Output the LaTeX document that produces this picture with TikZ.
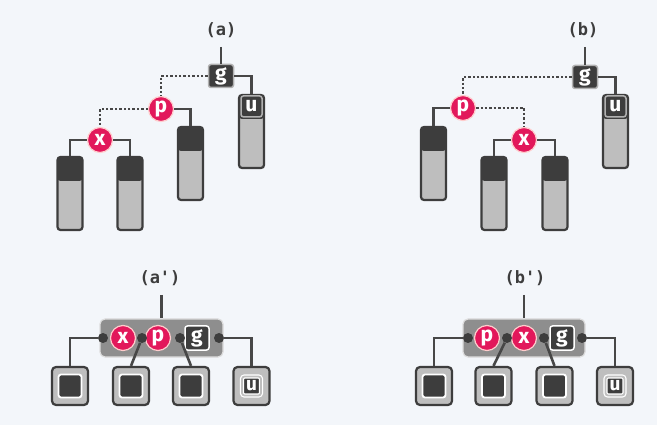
\documentclass[tikz,border=0pt]{standalone}
\usepackage{fontspec}
\newfontfamily\tagfont{DejaVu Sans Mono}
\newfontfamily\keyfont{Fira Sans}
\usepackage{tikz}
\definecolor{bg}{HTML}{F3F6FA}
\definecolor{ink}{HTML}{3D3D3D}
\definecolor{rim}{HTML}{474747}
\definecolor{redk}{HTML}{E2185B}
\definecolor{pale}{HTML}{BEBEBE}
\definecolor{mid}{HTML}{8E8E8E}

\begin{document}
\begin{tikzpicture}[x=1pt,y=-1pt,
	every node/.style={inner sep=0pt},
	edge/.style={draw=rim, line width=2.6pt},
	link/.style={draw=rim, line width=2.4pt, dotted},
	rk/.style={circle, fill=redk, draw=red!20, line width=1.2pt, minimum size=25pt,
		text=white, font=\keyfont\bfseries\fontsize{21}{21}\selectfont},
	bk/.style={rectangle, rounded corners=2.5pt, fill=ink, draw=white!60!ink, line width=1.5pt,
		minimum width=25pt, minimum height=23pt,
		text=white, font=\keyfont\bfseries\fontsize{21}{21}\selectfont},
	leaf/.style={rectangle, rounded corners=3pt, draw=ink, line width=2.2pt, fill=pale,
		minimum width=25pt, minimum height=73pt,
		path picture={\fill[ink] (path picture bounding box.north west) rectangle ([yshift=-24pt]path picture bounding box.north east);}},
	tag/.style={font=\tagfont\bfseries\fontsize{17}{17}\selectfont, text=ink},
	grp/.style={rectangle, rounded corners=5pt, fill=mid, draw=white!70!mid, line width=1.2pt,
		minimum width=123pt, minimum height=38pt},
	dot/.style={circle, fill=ink, minimum size=10pt},
	sq/.style={rectangle, rounded corners=4pt, fill=pale, draw=ink, line width=2.2pt,
		minimum width=36pt, minimum height=38pt},
	core/.style={rectangle, rounded corners=2.5pt, fill=ink, draw=white, line width=1.8pt,
		minimum size=23pt},
	ucore/.style={rectangle, rounded corners=2.5pt, fill=ink, draw=white, double=pale,
		double distance=1.8pt, line width=1.2pt, minimum size=19pt,
		text=white, font=\keyfont\bfseries\fontsize{19}{19}\selectfont}]
\fill[bg] (0,0) rectangle (657,425);
\useasboundingbox (0,0) rectangle (657,425);

% (a)
\node [tag] (na) at (221,30) {(a)};
\coordinate (ta) at (221,47);
\node [bk] (ga) at (221,76) {g};
\node [leaf] (ua) at (251.5,131.5) {};
\node [bk, minimum width=21pt, minimum height=21pt] at ([yshift=-12.5pt]ua.north) {u};
\node [rk] (pa) at (161,109) {p};
\node [leaf] (qa) at (190.5,163.5) {};
\node [rk] (xa) at (100,140) {x};
\node [leaf] (la1) at (70,193.5) {};
\node [leaf] (la2) at (130,193.5) {};
\draw [edge] (ta) -- (ga);
\draw [edge] (ga) -| (ua);
\draw [edge] (pa) -| (qa);
\draw [edge] (xa) -| (la1);
\draw [edge] (xa) -| (la2);
\draw [link] (ga) -| (pa);
\draw [link] (pa) -| (xa);

% (b)
\node [tag] (nb) at (583,30) {(b)};
\coordinate (tb) at (585,47);
\node [bk] (gb) at (585,77) {g};
\node [leaf] (ub) at (615.5,131.5) {};
\node [bk, minimum width=21pt, minimum height=21pt] at ([yshift=-12.5pt]ub.north) {u};
\node [rk] (pb) at (463,108) {p};
\node [leaf] (lb0) at (433.5,163.5) {};
\node [rk] (xb) at (524,140) {x};
\node [leaf] (lb1) at (494,193.5) {};
\node [leaf] (lb2) at (555,193.5) {};
\draw [edge] (tb) -- (gb);
\draw [edge] (gb) -| (ub);
\draw [edge] (pb) -| (lb0);
\draw [edge] (xb) -| (lb1);
\draw [edge] (xb) -| (lb2);
\draw [link] (gb) -| (pb);
\draw [link] (pb) -| (xb);

% (a')
\node [tag] (nc) at (160,278) {(a')};
\coordinate (tc) at (161.5,295);
\node [grp] (kc) at (161.5,338) {};
\node [rk] (xc) at (123,338) {x};
\node [rk] (pc) at (158,338) {p};
\node [bk, draw=white, minimum size=24pt] (gc) at (197,338) {g};
\node [sq] (c1) at (70,386) {};
\node [sq] (c2) at (131,386) {};
\node [sq] (c3) at (191,386) {};
\node [sq] (c4) at (251.5,386) {};
\node [core] at (c1) {};
\node [core] at (c2) {};
\node [core] at (c3) {};
\node [ucore] at (c4) {u};
\draw [edge] (tc) -- (kc);
\node [dot] (dc1) at (103,338) {};
\node [dot] (dc2) at (142,338) {};
\node [dot] (dc3) at (180,338) {};
\node [dot] (dc4) at (219,338) {};
\draw [edge] (dc1) -| (c1);
\draw [edge] (dc2) -- (c2.north);
\draw [edge] (dc3) -- (c3.north);
\draw [edge] (dc4) -| (c4);

% (b')
\node [tag] (nd) at (525,278) {(b')};
\coordinate (td) at (524,295);
\node [grp, minimum width=122pt] (kd) at (524,338) {};
\node [rk] (pd) at (487,338) {p};
\node [rk] (xd) at (524,338) {x};
\node [bk, draw=white, minimum size=24pt] (gd) at (562,338) {g};
\node [sq] (d1) at (434,386) {};
\node [sq] (d2) at (493.5,386) {};
\node [sq] (d3) at (554.5,386) {};
\node [sq] (d4) at (615,386) {};
\node [core] at (d1) {};
\node [core] at (d2) {};
\node [core] at (d3) {};
\node [ucore] at (d4) {u};
\draw [edge] (td) -- (kd);
\node [dot] (dd1) at (468,338) {};
\node [dot] (dd2) at (507,338) {};
\node [dot] (dd3) at (544,338) {};
\node [dot] (dd4) at (582,338) {};
\draw [edge] (dd1) -| (d1);
\draw [edge] (dd2) -- (d2.north);
\draw [edge] (dd3) -- (d3.north);
\draw [edge] (dd4) -| (d4);
\end{tikzpicture}
\end{document}
